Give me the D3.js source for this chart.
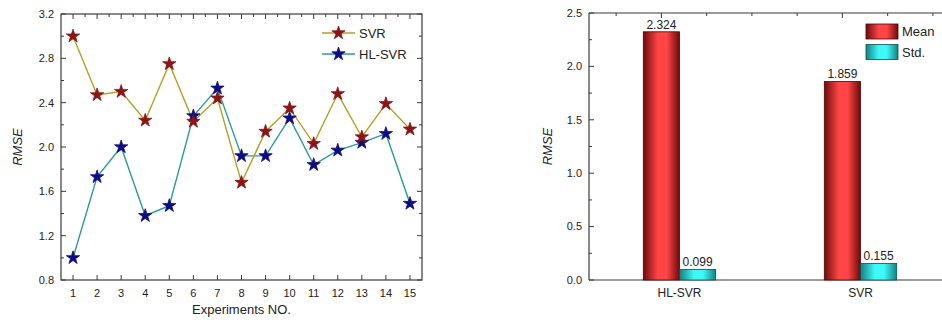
<!DOCTYPE html>
<html lang="en">
<head>
<meta charset="UTF-8">
<title>RMSE</title>
<script src="https://d3js.org/d3.v7.min.js"></script>
<style>
body{margin:0;background:#fff;}
svg text{font-family:"Liberation Sans",Arial,sans-serif;fill:#222;}
</style>
</head>
<body>
<script>
// data
var experiments=[1,2,3,4,5,6,7,8,9,10,11,12,13,14,15];
var svrRmse=[3.00,2.47,2.50,2.24,2.75,2.23,2.44,1.68,2.14,2.35,2.03,2.48,2.09,2.39,2.16];
var hlsvrRmse=[1.00,1.73,2.00,1.38,1.47,2.28,2.53,1.92,1.92,2.26,1.84,1.97,2.04,2.12,1.49];
var yTicksLeft=[0.8,1.2,1.6,2.0,2.4,2.8,3.2];

var models=["HL-SVR","SVR"];
var meanRmse=[2.324,1.859];
var stdRmse=[0.099,0.155];
var yTicksRight=[0.0,0.5,1.0,1.5,2.0,2.5];

var width=942,height=322;
var svg=d3.select("body").append("svg").attr("width",width).attr("height",height);
var axisColor="#3a3a3a";

// ###################### left: line chart
var L={left:61,right:422,top:14,bottom:280};
var x1=d3.scaleLinear().domain([0.5,15.5]).range([L.left,L.right]);
var y1=d3.scaleLinear().domain([0.8,3.2]).range([L.bottom,L.top]);
var g1=svg.append("g");

g1.append("rect").attr("x",L.left).attr("y",L.top).attr("width",L.right-L.left).attr("height",L.bottom-L.top)
    .attr("fill","none").attr("stroke",axisColor).attr("stroke-width",1.2);

var yMinor1=d3.range(0.8,3.21,0.2);
// left + right ticks inward
g1.selectAll(".yl").data(yMinor1).enter().append("line")
    .attr("x1",L.left).attr("x2",function(d,i){return L.left+(i%2==0?5:3);})
    .attr("y1",function(d){return y1(d);}).attr("y2",function(d){return y1(d);})
    .attr("stroke",axisColor);
g1.selectAll(".yr").data(yMinor1).enter().append("line")
    .attr("x1",L.right).attr("x2",function(d,i){return L.right-(i%2==0?5:3);})
    .attr("y1",function(d){return y1(d);}).attr("y2",function(d){return y1(d);})
    .attr("stroke",axisColor);
g1.selectAll(".ylab").data(yTicksLeft).enter().append("text")
    .attr("x",L.left-7).attr("y",function(d){return y1(d);}).attr("dy","0.35em")
    .attr("text-anchor","end").attr("font-size",11).text(function(d){return d.toFixed(1);});

// top ticks (major + half), bottom ticks (major)
var xMinor1=d3.range(1,15.01,0.5);
g1.selectAll(".xt").data(xMinor1).enter().append("line")
    .attr("x1",function(d){return x1(d);}).attr("x2",function(d){return x1(d);})
    .attr("y1",L.top).attr("y2",function(d){return L.top+(d%1==0?5:3);})
    .attr("stroke",axisColor);
g1.selectAll(".xb").data(experiments).enter().append("line")
    .attr("x1",function(d){return x1(d);}).attr("x2",function(d){return x1(d);})
    .attr("y1",L.bottom).attr("y2",L.bottom-5)
    .attr("stroke",axisColor);
g1.selectAll(".xlab").data(experiments).enter().append("text")
    .attr("x",function(d){return x1(d);}).attr("y",L.bottom+17)
    .attr("text-anchor","middle").attr("font-size",11).text(function(d){return d;});

g1.append("text").attr("x",L.left+(L.right-L.left)/2).attr("y",314)
    .attr("text-anchor","middle").attr("font-size",13).text("Experiments NO.");
g1.append("text").attr("transform","translate(22,"+((L.top+L.bottom)/2)+") rotate(-90)")
    .attr("text-anchor","middle").attr("font-size",13).attr("font-style","italic").text("RMSE");

var star=d3.symbol().type(d3.symbolStar).size(55);
var series=[
    {name:"SVR",vals:svrRmse,line:"#b3a02a",mark:"#8b1414"},
    {name:"HL-SVR",vals:hlsvrRmse,line:"#2a9a9a",mark:"#0c0c80"}
];
var line=d3.line().x(function(d,i){return x1(experiments[i]);}).y(function(d){return y1(d);});
series.slice().reverse().forEach(function(s){
    g1.append("path").datum(s.vals).attr("d",line).attr("fill","none")
        .attr("stroke",s.line).attr("stroke-width",1.4);
});
series.slice().reverse().forEach(function(s){
    g1.selectAll(null).data(s.vals).enter().append("path")
        .attr("d",star)
        .attr("transform",function(d,i){return "translate("+x1(experiments[i])+","+y1(d)+")";})
        .attr("fill",s.mark).attr("stroke",s.mark).attr("stroke-width",0.8);
});
// legend
series.forEach(function(s,i){
    var ly=33+i*21;
    g1.append("line").attr("x1",322).attr("x2",355).attr("y1",ly).attr("y2",ly)
        .attr("stroke",s.line).attr("stroke-width",1.4);
    g1.append("path").attr("d",star).attr("transform","translate(338.5,"+ly+")")
        .attr("fill",s.mark).attr("stroke",s.mark).attr("stroke-width",0.8);
    g1.append("text").attr("x",359).attr("y",ly).attr("dy","0.36em")
        .attr("font-size",13).text(s.name);
});

// ###################### right: bar chart
var R={left:589,right:951,top:13,bottom:280};
var x2=d3.scaleLinear().domain([0.6,2.6]).range([R.left,R.right]);
var y2=d3.scaleLinear().domain([0,2.5]).range([R.bottom,R.top]);
var g2=svg.append("g");

var defs=svg.append("defs");
function grad(id,edge,mid){
    var gr=defs.append("linearGradient").attr("id",id).attr("x1","0%").attr("x2","100%").attr("y1","0%").attr("y2","0%");
    gr.append("stop").attr("offset","0%").attr("stop-color",edge);
    gr.append("stop").attr("offset","40%").attr("stop-color",mid);
    gr.append("stop").attr("offset","65%").attr("stop-color",mid);
    gr.append("stop").attr("offset","100%").attr("stop-color",edge);
}
grad("gRed","#6e0a0a","#ff4545");
grad("gCyan","#138080","#3ff8f8");

g2.append("line").attr("x1",R.left).attr("x2",R.right).attr("y1",R.top).attr("y2",R.top).attr("stroke",axisColor).attr("stroke-width",1.2);
g2.append("line").attr("x1",R.left).attr("x2",R.right).attr("y1",R.bottom).attr("y2",R.bottom).attr("stroke",axisColor).attr("stroke-width",1.2);
g2.append("line").attr("x1",R.left).attr("x2",R.left).attr("y1",R.top).attr("y2",R.bottom).attr("stroke",axisColor).attr("stroke-width",1.2);

var yMinor2=d3.range(0,2.51,0.25);
g2.selectAll(".yl").data(yMinor2).enter().append("line")
    .attr("x1",R.left).attr("x2",function(d,i){return R.left+(i%2==0?5:3);})
    .attr("y1",function(d){return y2(d);}).attr("y2",function(d){return y2(d);})
    .attr("stroke",axisColor);
g2.selectAll(".ylab").data(yTicksRight).enter().append("text")
    .attr("x",R.left-7).attr("y",function(d){return y2(d);}).attr("dy","0.35em")
    .attr("text-anchor","end").attr("font-size",11).text(function(d){return d.toFixed(1);});
var xMinor2=d3.range(0.75,2.6,0.25);
g2.selectAll(".xt").data(xMinor2).enter().append("line")
    .attr("x1",function(d){return x2(d);}).attr("x2",function(d){return x2(d);})
    .attr("y1",R.top).attr("y2",function(d){return R.top+(d%1==0?5:3);})
    .attr("stroke",axisColor);

g2.append("text").attr("transform","translate(552,"+((R.top+R.bottom)/2)+") rotate(-90)")
    .attr("text-anchor","middle").attr("font-size",13).attr("font-style","italic").text("RMSE");

var barW=0.2;
models.forEach(function(m,i){
    var c=i+1;
    var groups=[{v:meanRmse[i],x:c-barW/2,fill:"url(#gRed)",stroke:"#4a0606"},
                {v:stdRmse[i],x:c+barW/2,fill:"url(#gCyan)",stroke:"#0d4f4f"}];
    groups.forEach(function(b){
        g2.append("rect").attr("x",x2(b.x)).attr("width",x2(b.x+barW)-x2(b.x))
            .attr("y",y2(b.v)).attr("height",y2(0)-y2(b.v))
            .attr("fill",b.fill).attr("stroke",b.stroke).attr("stroke-width",0.8);
        g2.append("text").attr("x",x2(b.x+barW/2)).attr("y",y2(b.v)-3)
            .attr("text-anchor","middle").attr("font-size",12).text(b.v.toFixed(3));
    });
    g2.append("text").attr("x",x2(c+barW/2)).attr("y",R.bottom+17)
        .attr("text-anchor","middle").attr("font-size",12).text(m);
});

// legend
[["Mean","url(#gRed)","#4a0606"],["Std.","url(#gCyan)","#0d4f4f"]].forEach(function(l,i){
    var ly=24+i*20.5;
    g2.append("rect").attr("x",866).attr("y",ly).attr("width",32).attr("height",15)
        .attr("fill",l[1]).attr("stroke",l[2]).attr("stroke-width",0.8);
    g2.append("text").attr("x",902).attr("y",ly+7.5).attr("dy","0.36em").attr("font-size",13).text(l[0]);
});
</script>
</body>
</html>
